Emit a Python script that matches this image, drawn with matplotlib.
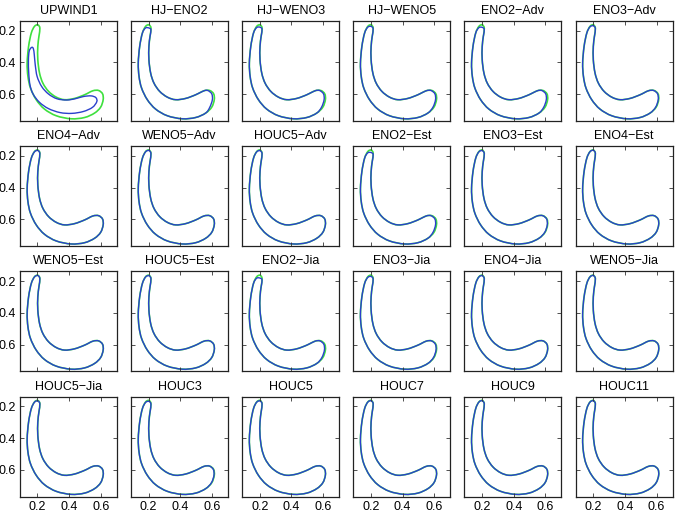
import numpy as np
import matplotlib
matplotlib.use('Agg')
import matplotlib.pyplot as plt
from matplotlib.path import Path
from matplotlib.patches import PathPatch

plt.rcParams['font.family'] = ['Liberation Sans', 'DejaVu Sans']

# panel titles, row by row
names = ['UPWIND1', 'HJ\u2212ENO2', 'HJ\u2212WENO3', 'HJ\u2212WENO5', 'ENO2\u2212Adv', 'ENO3\u2212Adv',
         'ENO4\u2212Adv', 'WENO5\u2212Adv', 'HOUC5\u2212Adv', 'ENO2\u2212Est', 'ENO3\u2212Est', 'ENO4\u2212Est',
         'WENO5\u2212Est', 'HOUC5\u2212Est', 'ENO2\u2212Jia', 'ENO3\u2212Jia', 'ENO4\u2212Jia', 'WENO5\u2212Jia',
         'HOUC5\u2212Jia', 'HOUC3', 'HOUC5', 'HOUC7', 'HOUC9', 'HOUC11']

# exact interface (green), traced: tip -> outer side -> bottom -> right end -> inner side
exact_x = [0.202, 0.181, 0.161, 0.144, 0.135, 0.140, 0.156, 0.192, 0.244, 0.318,
           0.412, 0.496, 0.559, 0.597, 0.613, 0.609, 0.584, 0.548, 0.496, 0.433,
           0.370, 0.318, 0.270, 0.234, 0.213, 0.202, 0.202, 0.209, 0.215]
exact_y = [0.163, 0.173, 0.215, 0.299, 0.404, 0.488, 0.561, 0.634, 0.693, 0.735,
           0.754, 0.746, 0.718, 0.681, 0.634, 0.597, 0.576, 0.578, 0.603, 0.626,
           0.634, 0.618, 0.582, 0.530, 0.467, 0.383, 0.299, 0.236, 0.184]

# first order upwind result (blue, first panel)
upwind_x = [0.163, 0.148, 0.143, 0.145, 0.153, 0.172, 0.212, 0.269, 0.342, 0.416,
            0.489, 0.546, 0.573, 0.567, 0.537, 0.489, 0.437, 0.384, 0.322, 0.269,
            0.227, 0.198, 0.186, 0.180, 0.174]
upwind_y = [0.305, 0.328, 0.384, 0.468, 0.542, 0.598, 0.650, 0.690, 0.715, 0.720,
            0.708, 0.682, 0.646, 0.621, 0.610, 0.614, 0.628, 0.636, 0.628, 0.598,
            0.552, 0.489, 0.416, 0.353, 0.313]

# how much of the thin tips each scheme loses (upper tip, right tip)
top_loss = [0, 0.020, 0.015, 0.010, 0.016, 0.006,
            0.003, 0.003, 0.004, 0.016, 0.004, 0.002,
            0.002, 0.003, 0.018, 0.008, 0.003, 0.002,
            0.003, 0.006, 0.003, 0.002, 0.002, 0.002]
right_loss = [0, 0.012, 0.008, 0.006, 0.008, 0.003,
              0, 0, 0, 0.006, 0.002, 0,
              0, 0, 0.006, 0.003, 0, 0,
              0, 0.002, 0, 0, 0, 0]

ticks = [0.2, 0.4, 0.6]
xlim = (0.09, 0.70)
ylim = (0.768, 0.139)

GREEN = '#3ee03e'
BLUE = '#2a40cc'


def smooth_path(xs, ys):
    # closed curve through the traced points (Catmull-Rom as cubic Bezier)
    p = np.column_stack([xs, ys])
    n = len(p)
    verts = [p[0]]
    codes = [Path.MOVETO]
    for i in range(n):
        p0, p1, p2, p3 = p[i - 1], p[i], p[(i + 1) % n], p[(i + 2) % n]
        verts += [p1 + (p2 - p0) / 6, p2 - (p3 - p1) / 6, p2]
        codes += [Path.CURVE4] * 3
    return Path(verts, codes)


fig = plt.figure(figsize=(6.78, 5.2), dpi=100)
W, H = 678, 520

for k, name in enumerate(names):
    r, c = divmod(k, 6)
    left = 20 + c * 111.1
    top = 21 + r * 125.2
    ax = fig.add_axes([left / W, 1 - (top + 100) / H, 97 / W, 100 / H])

    ax.add_patch(PathPatch(smooth_path(exact_x, exact_y), fill=False,
                           edgecolor=GREEN, lw=1.2))
    if k == 0:
        bx, by = upwind_x, upwind_y
    else:
        bx = np.array(exact_x)
        by = np.array(exact_y)
        by[0] += top_loss[k]
        by[1] += top_loss[k] / 2
        by[-1] += top_loss[k] / 2
        bx[13:17] -= right_loss[k]
    ax.add_patch(PathPatch(smooth_path(bx, by), fill=False,
                           edgecolor=BLUE, lw=1.0))

    ax.set_xlim(*xlim)
    ax.set_ylim(*ylim)
    ax.set_xticks(ticks)
    ax.set_yticks(ticks)
    ax.set_xticklabels(['0.2', '0.4', '0.6'] if r == 3 else [])
    ax.set_yticklabels(['0.2', '0.4', '0.6'] if c == 0 else [])
    ax.tick_params(direction='in', top=True, right=True, length=3,
                   width=0.6, labelsize=9, pad=3, color='#333333')
    for s in ax.spines.values():
        s.set_linewidth(0.9)
        s.set_color('#222222')
    ax.set_title(name, fontsize=9, pad=5)

fig.savefig('out.png', dpi=100)
